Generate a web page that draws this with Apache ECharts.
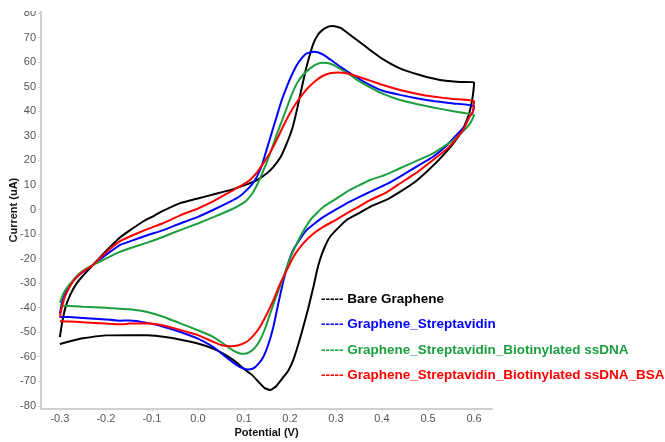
<!DOCTYPE html>
<html>
<head>
<meta charset="utf-8">
<title>CV curves</title>
<script src="https://cdn.jsdelivr.net/npm/echarts@6/dist/echarts.min.js"></script>
<style>
  html, body { margin: 0; padding: 0; background: #fff; }
  #chart { width: 665px; height: 442px; }
</style>
</head>
<body>
<div id="chart"></div>
<script>
// tick labels
const xTicks = [-0.3, -0.2, -0.1, 0.0, 0.1, 0.2, 0.3, 0.4, 0.5, 0.6];
const yTicks = [-80, -70, -60, -50, -40, -30, -20, -10, 0, 10, 20, 30, 40, 50, 60, 70, 80];

const seriesNames = [
  "Bare Graphene",
  "Graphene_Streptavidin",
  "Graphene_Streptavidin_Biotinylated ssDNA",
  "Graphene_Streptavidin_Biotinylated ssDNA_BSA"
];
const seriesColors = ["#000000", "#0000ff", "#1b9e3e", "#ff0000"];

// [potential V, current uA], forward sweep then reverse sweep
const bareGraphene = [
  [-0.300,-52],[-0.295,-46],[-0.288,-40],[-0.278,-35],[-0.265,-30.5],[-0.25,-27],[-0.228,-22.6],
  [-0.2,-17],[-0.17,-11.5],[-0.148,-8.5],[-0.12,-5],[-0.1,-3],[-0.075,-0.5],[-0.04,2.5],[0.0,4.5],
  [0.035,6.2],[0.07,7.9],[0.1,9.8],[0.128,12],[0.15,14.8],[0.164,17.4],[0.18,21.5],[0.193,26.9],
  [0.205,33],[0.215,40.5],[0.226,50],[0.236,58.2],[0.251,67.7],[0.262,71.5],[0.273,73.5],
  [0.285,74.6],[0.294,74.8],[0.31,74],[0.331,71.1],[0.36,67],[0.374,65],[0.4,61.5],[0.439,57.5],
  [0.482,54.8],[0.526,52.8],[0.569,52],[0.6,51.9],
  [0.597,46],[0.592,41],[0.587,37.8],[0.575,32.5],[0.555,26.9],[0.525,20.5],[0.497,15.4],
  [0.47,11],[0.439,7.2],[0.41,4],[0.374,1.1],[0.35,-1.5],[0.323,-4.3],[0.305,-7.5],[0.287,-11.1],
  [0.275,-15.5],[0.265,-20.6],[0.258,-25.5],[0.251,-31.5],[0.24,-40],[0.229,-47.8],[0.218,-55],
  [0.207,-61.4],[0.196,-65.8],[0.186,-68.2],[0.17,-72],[0.157,-73.6],[0.145,-72.8],[0.135,-70.9],
  [0.118,-67.5],[0.099,-64.8],[0.078,-61.5],[0.055,-58.7],[0.03,-56.5],[0.0,-54.6],[-0.04,-53],
  [-0.075,-51.9],[-0.11,-51.3],[-0.148,-51.2],[-0.2,-51.3],[-0.25,-52.5],[-0.28,-53.8],[-0.3,-54.8]
];

const streptavidin = [
  [-0.3,-42.5],[-0.296,-38.5],[-0.29,-35],[-0.28,-31.5],[-0.267,-28.3],[-0.25,-25.5],[-0.228,-22.6],
  [-0.2,-18.5],[-0.17,-14.5],[-0.148,-13],[-0.11,-10.5],[-0.075,-8.4],[-0.04,-5.8],[0.0,-3],
  [0.035,0],[0.07,3.2],[0.09,5.3],[0.106,7.9],[0.118,10.3],[0.128,13.3],[0.139,18],[0.149,24.2],
  [0.16,31],[0.171,37.8],[0.182,44.5],[0.193,50],[0.204,54.8],[0.215,58.9],[0.226,61.8],
  [0.236,63.6],[0.251,64.3],[0.262,64],[0.273,63],[0.29,60.8],[0.309,58.2],[0.335,55],[0.36,52.1],
  [0.374,50.7],[0.4,48.5],[0.439,46.7],[0.475,45.3],[0.511,44.2],[0.555,43.2],[0.6,42.2],
  [0.597,39.5],[0.59,37.8],[0.58,34],[0.562,30.4],[0.54,26],[0.511,21.5],[0.475,17.5],[0.439,13.4],
  [0.41,10.3],[0.374,7.2],[0.35,5],[0.323,2.5],[0.3,0],[0.273,-3],[0.255,-5.5],[0.236,-8.4],
  [0.222,-12],[0.207,-16.5],[0.196,-22],[0.186,-28.8],[0.175,-38],[0.164,-47.8],[0.153,-55],
  [0.142,-60.1],[0.131,-63],[0.12,-64.8],[0.108,-65.2],[0.099,-64.8],[0.085,-63.5],[0.07,-61.4],
  [0.05,-58.5],[0.033,-56],[0.0,-52.6],[-0.04,-49.8],[-0.075,-47.8],[-0.11,-46.2],[-0.148,-45.2],
  [-0.17,-45.3],[-0.2,-44.8],[-0.25,-44.2],[-0.28,-43.8],[-0.3,-43.8]
];

const biotinDNA = [
  [-0.3,-38],[-0.293,-34.5],[-0.285,-32],[-0.272,-29],[-0.257,-26],[-0.243,-24.2],[-0.228,-22.6],
  [-0.2,-20],[-0.17,-17.3],[-0.148,-15.8],[-0.11,-13.5],[-0.075,-11.1],[-0.04,-8.5],[0.0,-5.7],
  [0.035,-3],[0.07,-0.2],[0.09,1.7],[0.105,3.6],[0.117,6.2],[0.128,9.8],[0.138,14],[0.148,18.5],
  [0.157,22.9],[0.171,30.5],[0.186,37.8],[0.2,45],[0.215,51.4],[0.229,55],[0.244,57.5],[0.256,59],
  [0.269,59.8],[0.282,59.7],[0.294,58.9],[0.31,57.2],[0.331,54.8],[0.35,52.3],[0.374,49.8],
  [0.4,47.3],[0.439,44.6],[0.475,43],[0.511,41.6],[0.555,40],[0.6,38.5],
  [0.594,36],[0.586,33.7],[0.555,28.3],[0.525,24.5],[0.511,22.9],[0.475,19.8],[0.439,16.8],
  [0.41,14.3],[0.374,12],[0.35,9.8],[0.323,7.2],[0.3,4.3],[0.273,1.1],[0.258,-1.5],[0.244,-4.3],
  [0.23,-8.5],[0.215,-13.8],[0.2,-20],[0.186,-27.4],[0.171,-35],[0.157,-42.4],[0.146,-48.5],
  [0.135,-53.2],[0.124,-56.3],[0.113,-58],[0.102,-58.8],[0.091,-58.7],[0.075,-57.3],[0.055,-54.6],
  [0.03,-51.6],[0.0,-49.2],[-0.04,-46.3],[-0.075,-43.7],[-0.11,-41.8],[-0.148,-40.7],[-0.17,-40.5],
  [-0.2,-40],[-0.25,-39.6],[-0.28,-39.3],[-0.3,-39.2]
];

const biotinDNABSA = [
  [-0.3,-44],[-0.297,-41],[-0.29,-36],[-0.28,-32],[-0.268,-28.5],[-0.25,-25.3],[-0.228,-22.6],
  [-0.2,-17.5],[-0.17,-13],[-0.148,-11],[-0.11,-8],[-0.075,-5.5],[-0.04,-2.5],[0.0,0.4],
  [0.035,3.5],[0.07,7.2],[0.095,9.8],[0.113,12],[0.128,15],[0.142,18.8],[0.157,23.2],[0.171,28.3],
  [0.185,33.8],[0.2,39.2],[0.215,43.8],[0.229,47.3],[0.243,50.3],[0.258,52.8],[0.272,54.5],
  [0.287,55.5],[0.305,55.8],[0.323,55.5],[0.34,54.6],[0.36,53.4],[0.374,52.5],[0.4,50.8],
  [0.439,48.7],[0.475,47.2],[0.511,46],[0.555,45],[0.6,44.2],
  [0.598,40],[0.59,37.8],[0.578,33],[0.562,29],[0.54,24.5],[0.511,20.2],[0.475,15],[0.439,10.6],
  [0.41,7],[0.374,3.8],[0.35,1.2],[0.323,-1.6],[0.3,-4.2],[0.273,-7],[0.25,-10],[0.229,-13.8],
  [0.21,-18.5],[0.193,-24.7],[0.178,-30.5],[0.164,-36.9],[0.15,-42.5],[0.135,-47.8],[0.12,-51.5],
  [0.106,-53.9],[0.088,-55.3],[0.07,-55.7],[0.05,-55.2],[0.033,-53.9],[0.0,-51.2],[-0.04,-49],
  [-0.075,-47.3],[-0.11,-46.4],[-0.148,-46.5],[-0.17,-46.8],[-0.2,-46.5],[-0.25,-46],[-0.28,-45.6],
  [-0.3,-45.5]
];

const seriesData = [bareGraphene, streptavidin, biotinDNA, biotinDNABSA];

const chart = echarts.init(document.getElementById("chart"), null, { renderer: "canvas" });

const axisGray = "#d0d0d0";
const labelGray = "#555555";

const option = {
  animation: false,
  backgroundColor: "#ffffff",
  textStyle: { fontFamily: "Liberation Sans, Arial, sans-serif" },
  grid: { left: 41, right: 173, top: 11.7, bottom: 33.5, containLabel: false, outerBoundsMode: "none" },
  xAxis: {
    type: "value",
    min: -0.341,
    max: 0.639,
    name: "Potential (V)",
    nameLocation: "middle",
    nameGap: 19,
    nameMoveOverlap: false,
    nameTextStyle: { color: "#111", fontWeight: "bold", fontSize: 11, verticalAlign: "top" },
    axisLine: { show: true, onZero: false, lineStyle: { color: axisGray, width: 2 } },
    axisTick: { show: true, length: 3, customValues: xTicks, lineStyle: { color: axisGray } },
    axisLabel: {
      customValues: xTicks,
      margin: 5,
      color: labelGray,
      fontSize: 11,
      formatter: (v) => v.toFixed(1)
    },
    splitLine: { show: false }
  },
  yAxis: {
    type: "value",
    min: -81.1,
    max: 80.6,
    name: "Current (uA)",
    nameLocation: "middle",
    nameGap: 22,
    nameRotate: 90,
    nameMoveOverlap: false,
    nameTextStyle: { color: "#111", fontWeight: "bold", fontSize: 11 },
    axisLine: { show: true, onZero: false, lineStyle: { color: axisGray, width: 2 } },
    axisTick: { show: true, length: 3, customValues: yTicks, lineStyle: { color: axisGray } },
    axisLabel: { customValues: yTicks, margin: 5, color: labelGray, fontSize: 11 },
    splitLine: { show: false }
  },
  legend: {
    orient: "vertical",
    left: 311,
    top: 287,
    icon: "none",
    itemWidth: 0,
    itemHeight: 14,
    itemGap: 11.4,
    selectedMode: false,
    formatter: "----- {name}",
    textStyle: { fontWeight: "bold", fontSize: 13.5, lineHeight: 14 },
    data: seriesNames.map((n, i) => ({ name: n, textStyle: { color: seriesColors[i] } }))
  },
  graphic: [
    // the source image is cropped just above the top tick label
    { type: "rect", left: 0, top: 0, shape: { width: 120, height: 11 }, style: { fill: "#fff" }, z: 100 }
  ],
  series: seriesNames.map((n, i) => ({
    name: n,
    type: "line",
    data: seriesData[i],
    showSymbol: false,
    smooth: 0.12,
    color: seriesColors[i],
    lineStyle: { color: seriesColors[i], width: 2 }
  }))
};

chart.setOption(option);
</script>
</body>
</html>
